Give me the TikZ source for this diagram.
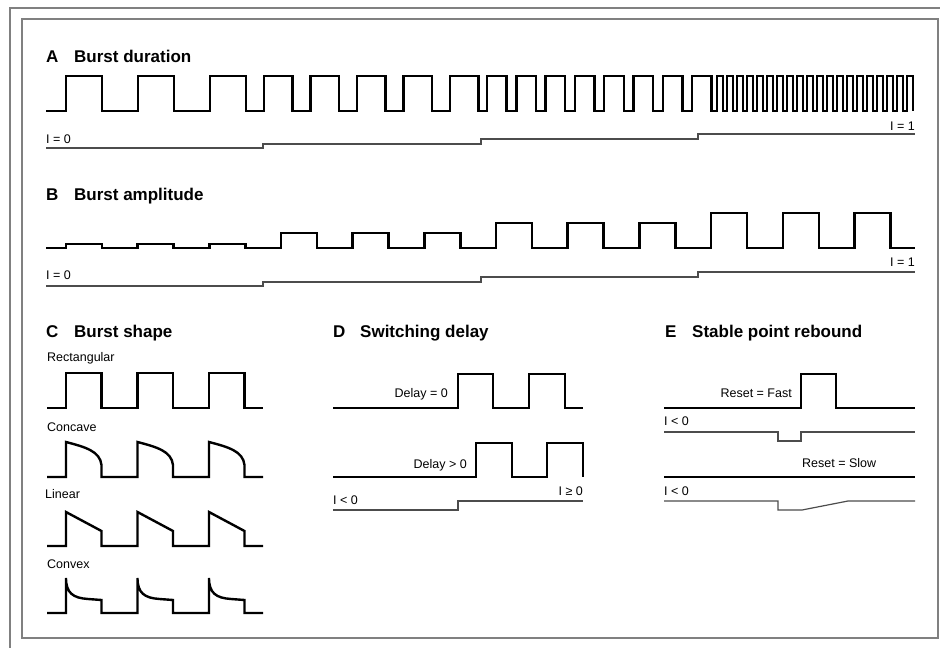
\documentclass[tikz,border=0pt]{standalone}
\usepackage{fontspec}
\setmainfont{Liberation Sans}
\begin{document}
\begin{tikzpicture}[x=1pt,y=-1pt,
  wave/.style={line width=2.4pt, black, line join=miter},
  iline/.style={line width=1.2pt, black!70},
  lbl/.style={font=\fontsize{12.5}{15}\selectfont, inner sep=0pt},
  ttl/.style={font=\fontsize{17}{20}\selectfont\bfseries, inner sep=0pt}]
\useasboundingbox (0,0) rectangle (940,648);
% frame
\draw[line width=2pt, black!50] (10,648) -- (10,8) -- (940,8);
\draw[line width=1.4pt, black!50] (22,19) rectangle (938,638);

% ---------- A ----------
\node[ttl, anchor=base west] (tA) at (46,62) {A};
\node[ttl, anchor=base west] (tAt) at (74,62) {Burst duration};
\draw[wave] (46,111)
  \foreach \x in {66,138,210} { -- (\x,111) -- (\x,76) -- ({\x+36},76) -- ({\x+36},111) }
  \foreach \k in {0,...,4} { -- ({264+46.5*\k},111) -- ({264+46.5*\k},76) -- ({292.5+46.5*\k},76) -- ({292.5+46.5*\k},111) }
  \foreach \k in {0,...,7} { -- ({487+29.3*\k},111) -- ({487+29.3*\k},76) -- ({506.5+29.3*\k},76) -- ({506.5+29.3*\k},111) }
  \foreach \k in {0,...,19} { -- ({717+10*\k},111) -- ({717+10*\k},76) -- ({723+10*\k},76) -- ({723+10*\k},111) };
\draw[iline] (46,148) -- (263,148) -- (263,144) -- (481,144) -- (481,139) -- (698,139) -- (698,134) -- (915,134);
\node[lbl, anchor=base west] (iA0) at (46,143) {I = 0};
\node[lbl, anchor=base east] (iA1) at (915,130) {I = 1};

% ---------- B ----------
\node[ttl, anchor=base west] (tB) at (46,200) {B};
\node[ttl, anchor=base west] (tBt) at (74,200) {Burst amplitude};
\draw[wave] (46,248)
  \foreach \k/\t in {0/244,1/244,2/244,3/233,4/233,5/233,6/223,7/223,8/223,9/213,10/213,11/213}
   { -- ({66+71.67*\k},248) -- ({66+71.67*\k},\t) -- ({102+71.67*\k},\t) -- ({102+71.67*\k},248) }
  -- (915,248);
\draw[iline] (46,286) -- (263,286) -- (263,282) -- (481,282) -- (481,277) -- (698,277) -- (698,272) -- (915,272);
\node[lbl, anchor=base west] (iB0) at (46,279) {I = 0};
\node[lbl, anchor=base east] (iB1) at (915,266) {I = 1};

% ---------- C ----------
\node[ttl, anchor=base west] (tC) at (46,337) {C};
\node[ttl, anchor=base west] (tCt) at (74,337) {Burst shape};
\node[lbl, anchor=base west] (cR) at (47,361) {Rectangular};
\draw[wave] (47,408)
  \foreach \x in {66,137.5,209} { -- (\x,408) -- (\x,373) -- ({\x+35.5},373) -- ({\x+35.5},408) }
  -- (263,408);
\node[lbl, anchor=base west] (cC) at (47,431) {Concave};
\draw[wave] (47,477)
  \foreach \x in {66,137.5,209} { -- (\x,477) -- (\x,442) .. controls ({\x+19},447) and ({\x+34},451) .. ({\x+35.5},465) -- ({\x+35.5},477) }
  -- (263,477);
\node[lbl, anchor=base west] (cL) at (45,498) {Linear};
\draw[wave] (47,546)
  \foreach \x in {66,137.5,209} { -- (\x,546) -- (\x,512) -- ({\x+35.5},531) -- ({\x+35.5},546) }
  -- (263,546);
\node[lbl, anchor=base west] (cV) at (47,568) {Convex};
\draw[wave] (47,613)
  \foreach \x in {66,137.5,209} { -- (\x,613) -- (\x,578) .. controls (\x,593) and ({\x+7},598) .. ({\x+22},599) -- ({\x+35.5},600) -- ({\x+35.5},613) }
  -- (263,613);

% ---------- D ----------
\node[ttl, anchor=base west] (tD) at (333,337) {D};
\node[ttl, anchor=base west] (tDt) at (360,337) {Switching delay};
\draw[wave] (333,408) -- (458,408) -- (458,374) -- (493,374) -- (493,408) -- (529,408) -- (529,374) -- (565,374) -- (565,408) -- (583,408);
\node[lbl, anchor=base east] (d0) at (448,397) {Delay = 0};
\draw[wave] (333,477) -- (476,477) -- (476,443) -- (512,443) -- (512,477) -- (547,477) -- (547,443) -- (583,443) -- (583,477);
\node[lbl, anchor=base east] (d1) at (467,468) {Delay > 0};
\draw[iline] (333,510) -- (458,510) -- (458,501) -- (583,501);
\node[lbl, anchor=base west] (dI0) at (333,504) {I < 0};
\node[lbl, anchor=base east] (dI1) at (583,495) {I ≥ 0};

% ---------- E ----------
\node[ttl, anchor=base west] (tE) at (665,337) {E};
\node[ttl, anchor=base west] (tEt) at (692,337) {Stable point rebound};
\draw[wave] (664,408) -- (801,408) -- (801,374) -- (836,374) -- (836,408) -- (915,408);
\node[lbl, anchor=base east] (eF) at (792,397) {Reset = Fast};
\draw[iline] (664,432) -- (778,432) -- (778,441) -- (801,441) -- (801,432) -- (915,432);
\node[lbl, anchor=base west] (eI0) at (664,425) {I < 0};
\draw[wave] (664,477) -- (915,477);
\node[lbl, anchor=base west] (eS) at (802,467) {Reset = Slow};
\draw[iline] (664,501) -- (778,501) -- (778,510) -- (802,510) -- (848,501) -- (915,501);
\node[lbl, anchor=base west] (eI1) at (664,495) {I < 0};
\end{tikzpicture}
\end{document}
